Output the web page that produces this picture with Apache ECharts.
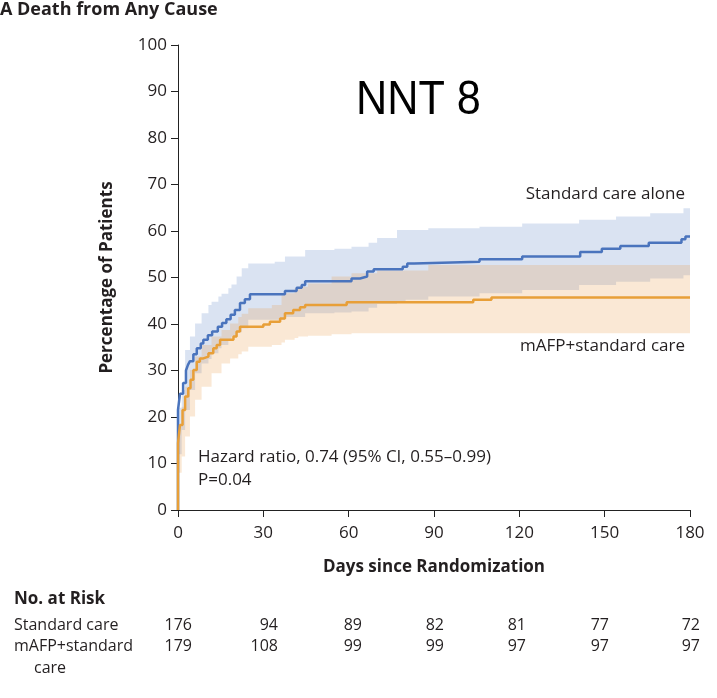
<!DOCTYPE html>
<html>
<head>
<meta charset="utf-8">
<script src="https://cdn.jsdelivr.net/npm/echarts@6/dist/echarts.min.js"></script>
<style>
html,body{margin:0;padding:0;background:#fff;}
#chart{width:717px;height:698px;}
</style>
</head>
<body>
<div id="chart"></div>
<script>
// ---- Data ----
const xTicks = [0, 30, 60, 90, 120, 150, 180];
const yTicks = [0, 10, 20, 30, 40, 50, 60, 70, 80, 90, 100];

const standardDays = [0, 0, 0.7, 1.8, 2.8, 3.5, 4.2, 5.4, 6.6, 8, 8.9, 10.5, 12, 14, 15.5, 17, 18.5, 20, 21.8, 23.5, 25.3, 37.6, 41.7, 43.5, 44.7, 61, 64, 66.5, 68.8, 79, 80.6, 83, 106, 121, 141.4, 149, 155.5, 165.5, 177, 178.4, 180];
const standardPct  = [0, 21.5, 25, 27.3, 30, 31.2, 32, 33.5, 34.8, 35.8, 36.6, 37.6, 38.4, 39.4, 40.2, 41, 42, 43, 44.5, 45.3, 46.4, 47.1, 47.8, 48.4, 49.2, 49.8, 50.2, 51.3, 51.8, 52.3, 53.0, 53.4, 53.9, 54.5, 55.5, 56.2, 56.8, 57.5, 58.2, 58.8, 58.8];

const mafpDays = [0, 0, 0.7, 1.6, 2.5, 3.6, 4.4, 5.4, 6.6, 7.7, 8.9, 10.7, 12.4, 13.6, 14.8, 19.5, 20.6, 21.8, 30, 32.3, 35.9, 37.6, 40.5, 42.9, 44.7, 59.3, 103.8, 110.2, 180];
const mafpPct  = [0, 14.4, 18.3, 21.5, 24.4, 26.2, 28, 30.1, 31.9, 32.6, 33.0, 33.7, 34.8, 35.5, 36.6, 37.3, 38.4, 39.4, 39.9, 40.5, 41.2, 42.3, 43.0, 43.6, 44.1, 44.7, 45.2, 45.7, 45.7];

const standardCIDays  = [0, 1.3, 2.5, 4.2, 6, 8.3, 10.7, 11.8, 14.2, 15.3, 17.7, 18.8, 20.6, 22.4, 24.7, 34, 37.6, 44.7, 55, 61, 67, 70, 77, 80, 88, 106, 121, 141, 154, 166, 177.7, 180];
const standardCILower = [12, 17.2, 21.5, 25.8, 29.4, 31.5, 32.5, 33.7, 34.8, 35.5, 36.5, 37.3, 38.2, 39.1, 40.9, 40.9, 41.5, 42.3, 42.5, 42.7, 43.5, 44.3, 44.8, 45.2, 45.9, 46.6, 47.3, 48.4, 49.1, 49.8, 50.5, 50.5];
const standardCIUpper = [22, 25.8, 34.4, 37.3, 40.1, 42.3, 44.1, 44.8, 45.9, 46.5, 47.7, 48.5, 50.2, 52.0, 53.0, 53.4, 54.5, 55.9, 56.2, 56.6, 57.5, 58.5, 60.2, 60.2, 60.6, 60.9, 61.6, 62.4, 63.1, 63.8, 64.9, 64.9];

const mafpCIDays  = [0, 1.3, 2.5, 4.2, 6, 8.3, 11.8, 15.3, 18.3, 21.2, 22.4, 24.7, 33, 36.4, 37.6, 41, 42.3, 45.7, 54, 61, 70, 88, 180];
const mafpCILower = [8, 11.5, 15.8, 20.1, 23.7, 26.5, 29.4, 31.5, 32.6, 33.5, 34.1, 35.1, 35.5, 36.0, 36.6, 37.0, 37.3, 37.5, 37.8, 38.0, 38.0, 38.0, 38.0];
const mafpCIUpper = [18, 22.2, 26.5, 30.1, 33, 35.5, 37.3, 38.7, 40.1, 41.5, 42.2, 43.4, 44.1, 46.2, 46.6, 47.7, 48.0, 48.7, 50.2, 50.9, 51.5, 52.7, 52.7];

const riskRows = ['Standard care', 'mAFP+standard'];
const riskStandard = [176, 94, 89, 82, 81, 77, 72];
const riskMafp = [179, 108, 99, 99, 97, 97, 97];

// ---- Build ----
const FONT = '"Open Sans", Lato, sans-serif';
const TXT = '#231f20';
const BLUE = '#4a74bd';
const ORANGE = '#e89f38';

function pairs(xs, ys) { return xs.map((x, i) => [x, ys[i]]); }

// confidence band as a step-shaped polygon, placed through the axes' scales
function bandSeries(days, lo, hi, color) {
  return {
    type: 'custom', silent: true, clip: true, z: 1,
    data: [[days[0], lo[0]]],
    renderItem: function (params, api) {
      const pts = [];
      for (let i = 0; i < days.length; i++) {
        if (i > 0) pts.push(api.coord([days[i], hi[i - 1]]));
        pts.push(api.coord([days[i], hi[i]]));
      }
      for (let i = days.length - 1; i >= 0; i--) {
        pts.push(api.coord([days[i], lo[i]]));
        if (i > 0) pts.push(api.coord([days[i], lo[i - 1]]));
      }
      return {type: 'polygon', shape: {points: pts}, style: {fill: color}};
    }
  };
}

const chart = echarts.init(document.getElementById('chart'), null, {renderer: 'canvas'});

const riskCols = [192, 278, 362, 444, 526, 609, 700];
const graphics = [
  {type: 'text', left: 0, top: 1, style: {text: 'A', font: 'bold 18px ' + FONT, fill: TXT}},
  {type: 'text', left: 17, top: 1, style: {text: 'Death from Any Cause', font: 'bold 18px ' + FONT, fill: TXT}},
  {type: 'text', x: 356, y: 101, scaleX: 0.9, style: {text: 'NNT 8', font: '48px "Liberation Sans", Arial, sans-serif', fill: '#000', verticalAlign: 'middle'}},
  {type: 'text', right: 32, top: 186, style: {text: 'Standard care alone', font: '17px ' + FONT, fill: TXT}},
  {type: 'text', right: 32, top: 338, style: {text: 'mAFP+standard care', font: '17px ' + FONT, fill: TXT}},
  {type: 'text', left: 198, top: 449, style: {text: 'Hazard ratio, 0.74 (95% CI, 0.55\u20130.99)', font: '17px ' + FONT, fill: TXT}},
  {type: 'text', left: 198, top: 472, style: {text: 'P=0.04', font: '17px ' + FONT, fill: TXT}},
  {type: 'text', left: 14, top: 591, style: {text: 'No. at Risk', font: 'bold 17px ' + FONT, fill: TXT}},
  {type: 'text', left: 14, top: 617, style: {text: riskRows[0], font: '16px ' + FONT, fill: TXT}},
  {type: 'text', left: 14, top: 638, style: {text: riskRows[1], font: '16px ' + FONT, fill: TXT}},
  {type: 'text', left: 34, top: 660, style: {text: 'care', font: '16px ' + FONT, fill: TXT}}
];
riskStandard.forEach((v, i) => graphics.push({type: 'text', x: riskCols[i], y: 617, style: {text: String(v), font: '16px ' + FONT, fill: TXT, align: 'right', verticalAlign: 'top'}}));
riskMafp.forEach((v, i) => graphics.push({type: 'text', x: riskCols[i], y: 638, style: {text: String(v), font: '16px ' + FONT, fill: TXT, align: 'right', verticalAlign: 'top'}}));

const option = {
  animation: false,
  backgroundColor: '#fff',
  grid: {left: 178, right: 27, top: 45, bottom: 188, containLabel: false},
  xAxis: {
    type: 'value', min: 0, max: 180, interval: 30,
    name: 'Days since Randomization', nameLocation: 'middle', nameGap: 49,
    nameTextStyle: {fontFamily: FONT, fontWeight: 'bold', fontSize: 17, color: TXT},
    axisLine: {show: true, lineStyle: {color: '#222', width: 1}},
    axisTick: {show: true, inside: false, length: 7, lineStyle: {color: '#222'}},
    axisLabel: {fontFamily: FONT, fontSize: 17, color: TXT, margin: 15,
      formatter: v => xTicks.includes(v) ? String(v) : ''},
    splitLine: {show: false}
  },
  yAxis: {
    type: 'value', min: 0, max: 100, interval: 10,
    name: 'Percentage of Patients', nameLocation: 'middle', nameGap: 62, nameRotate: 90,
    nameTextStyle: {fontFamily: FONT, fontWeight: 'bold', fontSize: 17, color: TXT},
    axisLine: {show: true, lineStyle: {color: '#222', width: 1}},
    axisTick: {show: true, inside: false, length: 7, lineStyle: {color: '#222'}},
    axisLabel: {fontFamily: FONT, fontSize: 17, color: TXT, margin: 11,
      formatter: v => yTicks.includes(v) ? String(v) : ''},
    splitLine: {show: false}
  },
  graphic: graphics,
  series: [
    bandSeries(standardCIDays, standardCILower, standardCIUpper, 'rgba(70,115,190,0.2)'),
    bandSeries(mafpCIDays, mafpCILower, mafpCIUpper, 'rgba(233,155,72,0.23)'),
    {type: 'line', name: 'Standard care alone', step: 'end', symbol: 'none', clip: false, z: 3,
      lineStyle: {color: BLUE, width: 2.5}, data: pairs(standardDays, standardPct)},
    {type: 'line', name: 'mAFP+standard care', step: 'end', symbol: 'none', clip: false, z: 3,
      lineStyle: {color: ORANGE, width: 2.5}, data: pairs(mafpDays, mafpPct)}
  ]
};
chart.setOption(option);
</script>
</body>
</html>
